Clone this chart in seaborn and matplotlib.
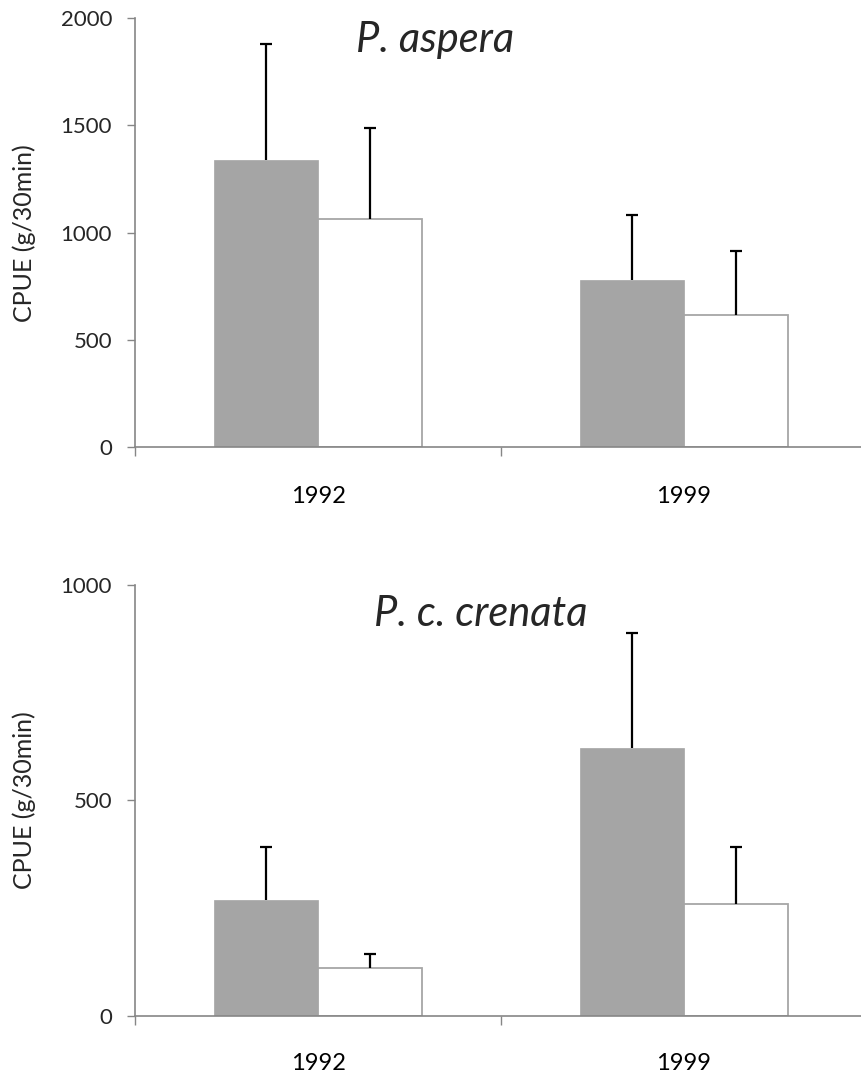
import matplotlib
matplotlib.use("Agg")
import matplotlib.pyplot as plt
import seaborn as sns
import pandas as pd
from matplotlib.ticker import FixedLocator

# Data: CPUE means and upper error (SE) per year and group
years = ["1992", "1999"]
groups = ["A", "B"]

aspera_gray = [1340, 778]
aspera_white = [1065, 615]
aspera_gray_err = [537, 305]
aspera_white_err = [424, 299]

crenata_gray = [269, 621]
crenata_white = [110, 259]
crenata_gray_err = [122, 267]
crenata_white_err = [33, 132]

aspera_ticks = [0, 500, 1000, 1500, 2000]
crenata_ticks = [0, 500, 1000]

sns.set_theme(style="white")
plt.rcParams["font.family"] = ["Lato", "DejaVu Sans"]

AXIS_GRAY = "#868686"
BAR_GRAY = "#A5A5A5"
EDGE_GRAY = "#A6A6A6"

fig = plt.figure(figsize=(8.61, 10.75), dpi=100)
W, H = 861.0, 1075.0

def make_panel(rect_px, gray, white, gray_err, white_err, yticks, ymax, title,
               title_pos, xpad):
    left, top, right, bottom = rect_px
    ax = fig.add_axes([left / W, 1 - bottom / H, (right - left) / W, (bottom - top) / H])
    df = pd.DataFrame({
        "year": years * 2,
        "group": [groups[0]] * 2 + [groups[1]] * 2,
        "value": gray + white,
    })
    sns.barplot(data=df, x="year", y="value", hue="group", order=years,
                hue_order=groups, palette=[BAR_GRAY, "white"], width=0.566,
                errorbar=None, legend=False, ax=ax, saturation=1)
    errs = {groups[0]: gray_err, groups[1]: white_err}
    vals = {groups[0]: gray, groups[1]: white}
    # patches are ordered by hue then by category
    patches = ax.patches[:4]
    for i, p in enumerate(patches):
        g = groups[i // 2]
        j = i % 2
        if g == groups[1]:
            p.set_edgecolor(EDGE_GRAY)
            p.set_linewidth(1.3)
        else:
            p.set_edgecolor(BAR_GRAY)
            p.set_linewidth(0.5)
        xc = p.get_x() + p.get_width() / 2
        eb = ax.errorbar([xc], [vals[g][j]], yerr=[[0], [errs[g][j]]], fmt="none",
                         ecolor="black", elinewidth=1.6, capsize=4, capthick=1.6,
                         zorder=3)
        # upper error only: hide the cap at the bar top
        caps = eb[1]
        if len(caps) == 2:
            caps[0].set_visible(False)

    ax.set_xlim(-0.5, 1.5)
    ax.set_ylim(0, ymax)
    ax.set_yticks(yticks)
    ax.set_yticklabels([str(t) for t in yticks], fontsize=16)
    ax.set_xticks([0, 1])
    ax.set_xticklabels(years, fontsize=17)
    ax.xaxis.set_minor_locator(FixedLocator([-0.5, 0.5, 1.5]))
    ax.tick_params(axis="x", which="major", length=0, pad=xpad, colors="black")
    ax.tick_params(axis="x", which="minor", length=6.5, width=1, color=AXIS_GRAY, bottom=True)
    ax.tick_params(axis="y", which="major", length=5.5, width=1, color=AXIS_GRAY,
                   pad=11, left=True)
    for s in ["top", "right"]:
        ax.spines[s].set_visible(False)
    for s in ["left", "bottom"]:
        ax.spines[s].set_color(AXIS_GRAY)
        ax.spines[s].set_linewidth(1.2)
    ax.set_xlabel("")
    ax.set_ylabel("CPUE (g/30min)", fontsize=18, va="center")
    ax.yaxis.set_label_coords(-(left - 24) / (right - left), 0.5)
    ax.text(title_pos[0], title_pos[1], title, transform=ax.transAxes,
            fontsize=30, style="italic", ha="center", va="baseline")
    ax.set_facecolor("white")
    return ax

make_panel((135, 18, 867, 447.3), aspera_gray, aspera_white, aspera_gray_err,
           aspera_white_err, aspera_ticks, 2000, "P. aspera", (0.41, 0.921), 28)
make_panel((135, 585, 867, 1015.7), crenata_gray, crenata_white, crenata_gray_err,
           crenata_white_err, crenata_ticks, 1000, "P. c. crenata", (0.473, 0.905), 27)

fig.savefig("out.png", dpi=100, facecolor="white")
